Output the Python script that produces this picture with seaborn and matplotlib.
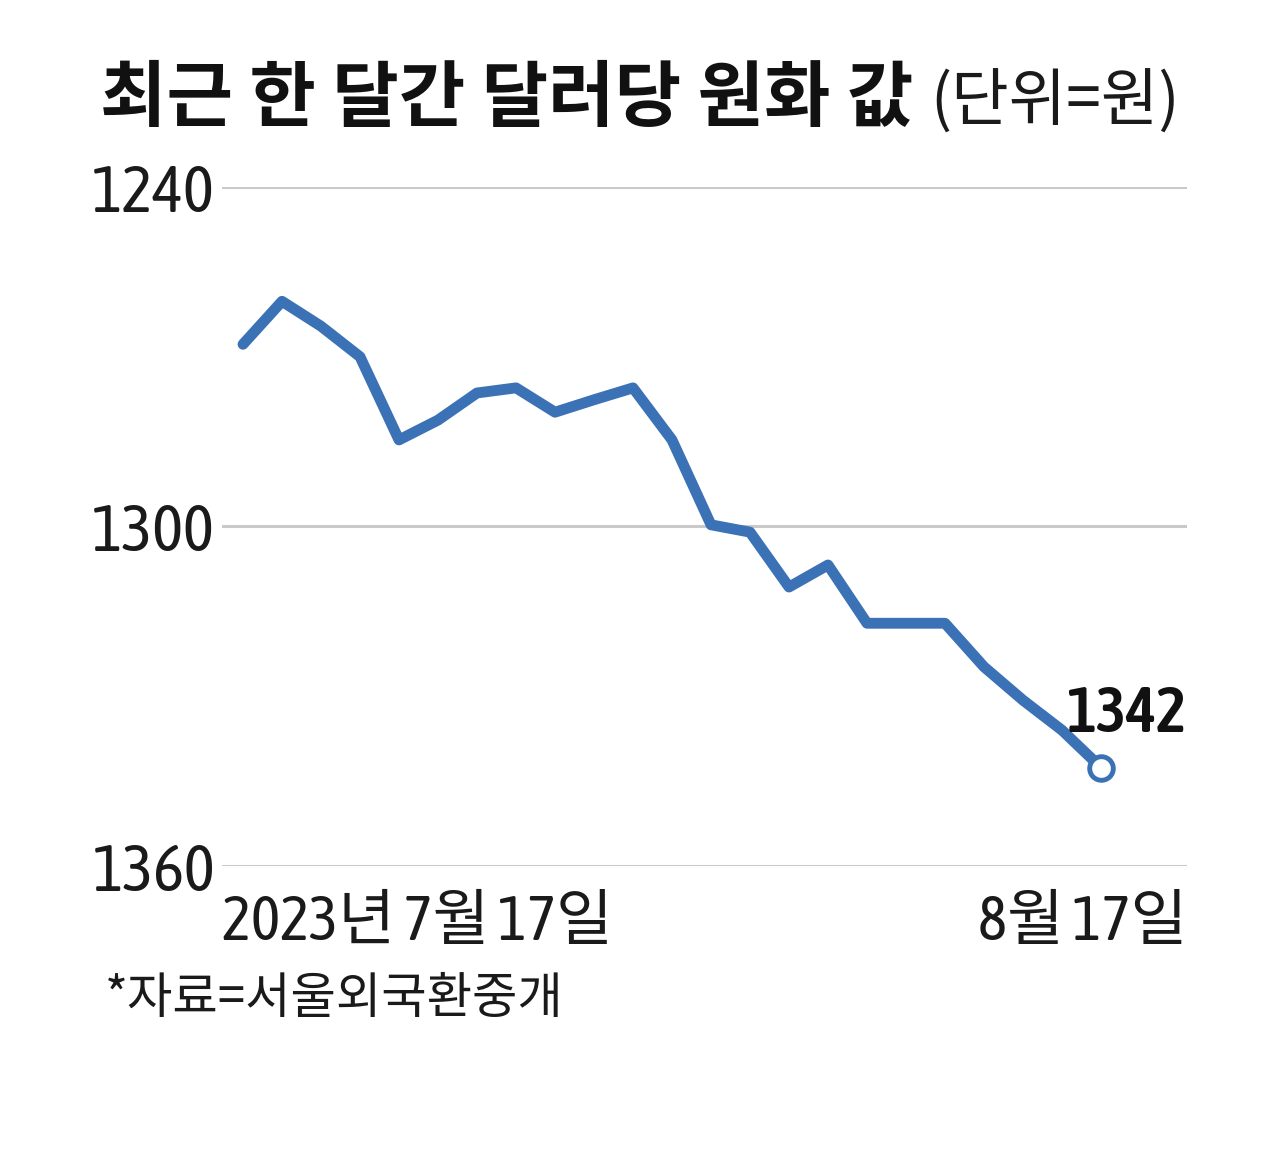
import matplotlib
matplotlib.use("Agg")
import matplotlib.pyplot as plt
import seaborn as sns
import pandas as pd
import numpy as np
from matplotlib import font_manager as fm

# ---- data ----
dates = ["07-17", "07-18", "07-19", "07-20", "07-21", "07-24", "07-25", "07-26",
         "07-27", "07-28", "07-31", "08-01", "08-02", "08-03", "08-04", "08-07",
         "08-08", "08-09", "08-10", "08-11", "08-14", "08-16", "08-17"]
krw = [1267.8, 1260.2, 1264.6, 1270.0, 1284.7, 1281.2, 1276.4, 1275.5,
       1279.8, 1277.6, 1275.5, 1284.7, 1299.7, 1301.0, 1310.7, 1306.8,
       1317.1, 1317.1, 1317.1, 1324.8, 1330.7, 1336.0, 1342.6]
yticks = [1240, 1300, 1360]
title_main = "최근 한 달간 달러당 원화 값"
title_unit = "(단위=원)"
x_first_label = "2023년 7월 17일"
x_last_label = "8월 17일"
end_label = "1342"
source = "*자료=서울외국환중개"

df = pd.DataFrame({"pos": np.arange(len(dates)), "date": dates, "krw": krw})

sns.set_theme(style="white")

# look for a condensed latin face, preferring one that also has a bold weight
cands = {}
for f in fm.fontManager.ttflist:
    nm = f.name.lower()
    if ("narrow" in nm or "condensed" in nm) and "mono" not in nm:
        w = f.weight if isinstance(f.weight, int) else (700 if "bold" in str(f.weight) else 400)
        cands.setdefault(f.name, set()).add(w)
narrow = None
for name, ws in sorted(cands.items()):
    if any(w >= 600 for w in ws) and any(w <= 500 for w in ws):
        narrow = name
        break
if narrow is None and cands:
    narrow = sorted(cands)[0]
has_narrow = narrow is not None
if narrow is None:
    narrow = "Liberation Sans"
plt.rcParams["font.family"] = [narrow, "Noto Sans CJK KR", "DejaVu Sans"]
num_fam = [narrow, "Noto Sans CJK KR", "DejaVu Sans"]

W, H = 1280, 1175
fig = plt.figure(figsize=(W / 100, H / 100), dpi=100, facecolor="white")
ax = fig.add_axes([222 / W, 1 - 866 / H, (1187 - 222) / W, (866 - 187) / H])

blue = "#3b72b6"
sns.lineplot(data=df, x="pos", y="krw", ax=ax, color=blue, linewidth=7.8,
             solid_joinstyle="round", solid_capstyle="round")
last = df.iloc[-1]
ax.plot([last["pos"]], [last["krw"]], marker="o", markersize=17,
        markerfacecolor="white", markeredgecolor=blue, markeredgewidth=3.5,
        zorder=5)

ax.set_ylim(yticks[-1], yticks[0])
step = 39.0
ax.set_xlim(0 - 21 / step, (len(dates) - 1) + 86 / step)
for yv in yticks:
    ax.axhline(yv, color="#c9c9c9", linewidth=2.2, zorder=0)
ax.set_xticks([])
ax.set_yticks(yticks)
tick_fs = 47 if has_narrow else 43
ax.set_yticklabels([str(v) for v in yticks], fontsize=tick_fs, color="#1a1a1a")
ax.tick_params(axis="y", length=0, pad=5)
for lab in ax.get_yticklabels():
    lab.set_family(num_fam)
    lab.set_verticalalignment("center_baseline")
for s in ax.spines.values():
    s.set_visible(False)
ax.set_xlabel("")
ax.set_ylabel("")
ax.patch.set_alpha(0)

# end label
ax.annotate(end_label, xy=(1186 / W, 1 - 732 / H), xycoords="figure fraction",
            ha="right", va="baseline", fontsize=46 if has_narrow else 40,
            fontweight="semibold", color="#111111", family=num_fam)

# x labels
xl_fs = 44.5 if has_narrow else 39.5
fig.text(222 / W, 1 - 940 / H, x_first_label, ha="left", va="baseline",
         fontsize=xl_fs, color="#1a1a1a", family=num_fam)
fig.text(1187 / W, 1 - 940 / H, x_last_label, ha="right", va="baseline",
         fontsize=xl_fs, color="#1a1a1a", family=num_fam)

# title
fig.text(100 / W, 1 - 121 / H, title_main, ha="left", va="baseline",
         fontsize=52, fontweight="bold", color="#111111",
         family=["Noto Sans CJK KR", "DejaVu Sans"])
fig.text(1180 / W, 1 - 121 / H, title_unit, ha="right", va="baseline",
         fontsize=45, color="#1a1a1a",
         family=["Noto Sans CJK KR", "DejaVu Sans"])

# source
fig.text(105 / W, 1 - 1013 / H, source, ha="left", va="baseline",
         fontsize=35.5, color="#1a1a1a",
         family=["Noto Sans CJK KR", "DejaVu Sans"])

fig.savefig("out.png", dpi=100, facecolor="white")
